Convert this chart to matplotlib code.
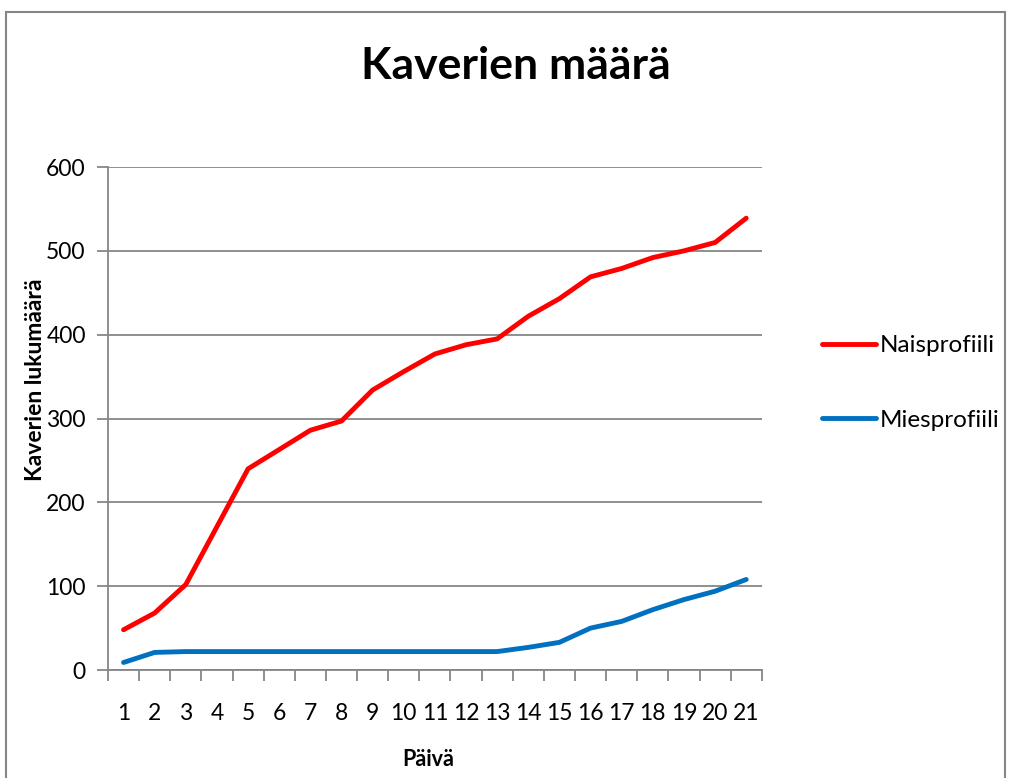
import numpy as np
import matplotlib.pyplot as plt
from matplotlib.patches import Rectangle

# Datos
paivat = list(range(1, 22))
naisprofiili = [48, 68, 102, 171, 240, 263, 286, 297, 334, 356, 377,
                388, 395, 422, 443, 469, 479, 492, 500, 510, 539]
miesprofiili = [9, 21, 22, 22, 22, 22, 22, 22, 22, 22, 22,
                22, 22, 27, 33, 50, 58, 72, 84, 94, 108]
y_ticks = [0, 100, 200, 300, 400, 500, 600]

plt.rcParams['font.family'] = ['Lato', 'DejaVu Sans']
gris = '#868686'

fig = plt.figure(figsize=(10.09, 7.78), dpi=100)
ax = fig.add_axes([0.107, 0.1388, 0.648, 0.6465])

ax.plot(paivat, naisprofiili, color='#FF0000', linewidth=3.5, label='Naisprofiili',
        solid_capstyle='round')
ax.plot(paivat, miesprofiili, color='#0070C0', linewidth=3.5, label='Miesprofiili',
        solid_capstyle='round')

ax.set_xlim(0.5, 21.5)
ax.set_ylim(0, 600)
ax.set_yticks(y_ticks)
ax.set_xticks(paivat)
ax.set_xticklabels([str(p) for p in paivat])
ax.set_xticks(np.arange(0.5, 22, 1), minor=True)
ax.tick_params(axis='x', which='major', length=0, pad=24, labelsize=16.5)
ax.tick_params(axis='x', which='minor', length=8, color=gris, width=1.3, direction='out')
ax.tick_params(axis='y', length=8, color=gris, width=1.3, direction='out', pad=8, labelsize=16.5)

ax.grid(axis='y', color=gris, linewidth=1.3)
ax.set_axisbelow(True)
for s in ['top', 'right']:
    ax.spines[s].set_visible(False)
for s in ['left', 'bottom']:
    ax.spines[s].set_color(gris)
    ax.spines[s].set_linewidth(1.3)

ax.set_xlabel('Päivä', fontsize=15.5, fontweight='bold')
ax.set_ylabel('Kaverien lukumäärä', fontsize=16.5, fontweight='bold')
ax.xaxis.set_label_coords(0.49, -0.157)
ax.yaxis.set_label_coords(-0.095, 0.577)

fig.text(0.511, 0.915, 'Kaverien määrä', ha='center', va='center',
         fontsize=32, fontweight='bold')

fig.legend(loc='center left', bbox_to_anchor=(0.8147, 0.5077), frameon=False,
           fontsize=17.5, handlelength=2.2, handletextpad=0.16, labelspacing=2.2,
           borderpad=0, borderaxespad=0)

# Marco exterior
fig.patches.append(Rectangle((6 / 1009, -0.05), 999 / 1009, 1.05 - 12 / 778,
                             transform=fig.transFigure, fill=False,
                             edgecolor=gris, linewidth=1.5))

fig.savefig('out.png', dpi=100)
